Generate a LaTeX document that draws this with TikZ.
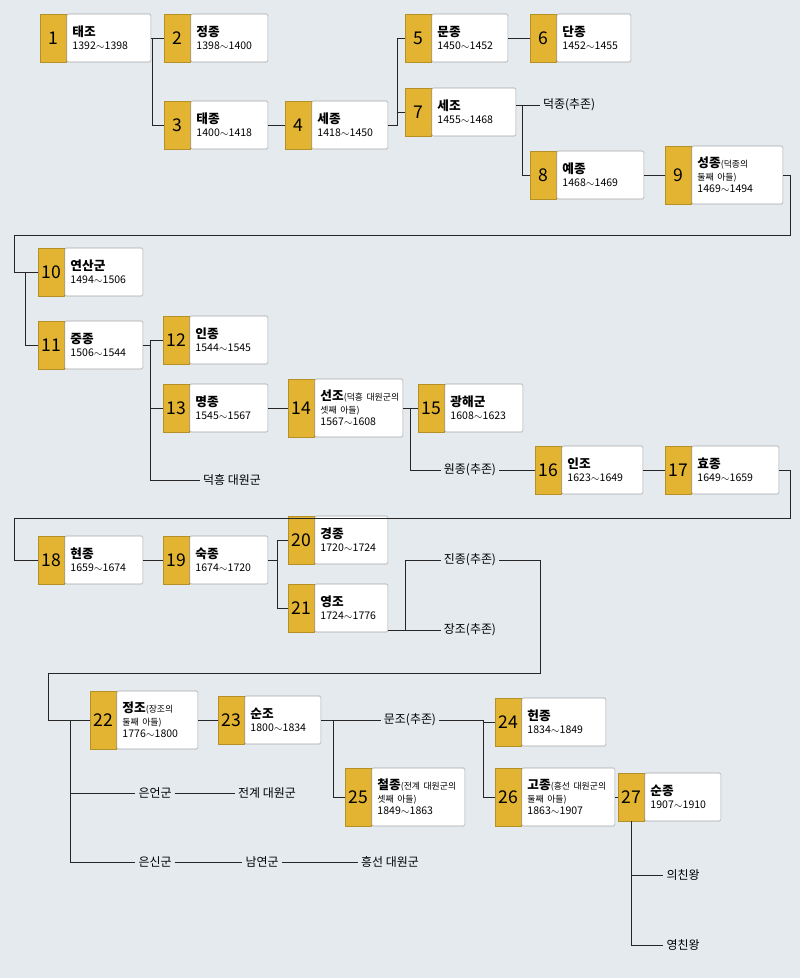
\documentclass[tikz,border=0pt]{standalone}
\usepackage{fontspec}
\setmainfont{Noto Sans CJK KR}
\usetikzlibrary{positioning}
\definecolor{bg}{HTML}{E4EAEE}
\definecolor{gold}{HTML}{E2B431}
\tikzset{x=0.025cm, y=-0.025cm,
  numbox/.style={fill=gold, draw=gold!80!black, minimum width=0.65cm, inner sep=0pt, font=\fontsize{12.5}{12}\selectfont, anchor=west},
  namebox/.style={fill=white, draw=black!35, rounded corners=1pt, inner xsep=4pt, inner ysep=2pt, align=left, font=\fontsize{7.5}{9}\selectfont},
  lbl/.style={font=\fontsize{8.5}{10}\selectfont, inner sep=2pt},
  link/.style={draw=black!85, line width=0.7pt}}
% \king{id}{x}{y}{width px}{height}{text}
\newcommand\king[6]{%
  \node[numbox, minimum height=#5] (n#1) at (#2,#3) {#1};
  \node[namebox, minimum height=#5, text width=\dimexpr #4\dimexpr0.025cm\relax-8pt\relax, anchor=west] (w#1) at (n#1.east) {#6};}
\newcommand\nm[1]{{\bfseries\fontsize{9}{10}\selectfont #1}}
\newcommand\sm[1]{\mbox{\fontsize{6.3}{8}\selectfont #1}}
\begin{document}
\begin{tikzpicture}
\fill[bg] (0,0) rectangle (800,978);
\useasboundingbox (0,0) rectangle (800,978);
\king{1}{40}{38}{84}{1.2cm}{\nm{태조}\\1392$\sim$1398}
\king{2}{164}{38}{77}{1.2cm}{\nm{정종}\\1398$\sim$1400}
\king{3}{164}{125}{77}{1.2cm}{\nm{태종}\\1400$\sim$1418}
\king{4}{285}{125}{76}{1.2cm}{\nm{세종}\\1418$\sim$1450}
\king{5}{405}{38}{76}{1.2cm}{\nm{문종}\\1450$\sim$1452}
\king{6}{530}{38}{74}{1.2cm}{\nm{단종}\\1452$\sim$1455}
\king{7}{405}{112}{84}{1.2cm}{\nm{세조}\\1455$\sim$1468}
\king{8}{530}{175}{87}{1.2cm}{\nm{예종}\\1468$\sim$1469}
\king{9}{665}{175}{91}{1.45cm}{\nm{성종}\sm{(덕종의}\\\sm{둘째 아들)}\\1469$\sim$1494}
\king{10}{38}{272}{78}{1.2cm}{\nm{연산군}\\1494$\sim$1506}
\king{11}{38}{345}{78}{1.2cm}{\nm{중종}\\1506$\sim$1544}
\king{12}{163}{340}{78}{1.2cm}{\nm{인종}\\1544$\sim$1545}
\king{13}{163}{408}{78}{1.2cm}{\nm{명종}\\1545$\sim$1567}
\king{14}{288}{408}{88}{1.45cm}{\nm{선조}\sm{(덕흥 대원군의}\\\sm{셋째 아들)}\\1567$\sim$1608}
\king{15}{418}{408}{78}{1.2cm}{\nm{광해군}\\1608$\sim$1623}
\king{16}{535}{470}{81}{1.2cm}{\nm{인조}\\1623$\sim$1649}
\king{17}{665}{470}{87}{1.2cm}{\nm{효종}\\1649$\sim$1659}
\king{18}{38}{560}{78}{1.2cm}{\nm{현종}\\1659$\sim$1674}
\king{19}{163}{560}{78}{1.2cm}{\nm{숙종}\\1674$\sim$1720}
\king{20}{288}{540}{73}{1.2cm}{\nm{경종}\\1720$\sim$1724}
\king{21}{288}{608}{73}{1.2cm}{\nm{영조}\\1724$\sim$1776}
\king{22}{90}{720}{81}{1.45cm}{\nm{정조}\sm{(장조의}\\\sm{둘째 아들)}\\1776$\sim$1800}
\king{23}{218}{720}{76}{1.2cm}{\nm{순조}\\1800$\sim$1834}
\king{24}{495}{722}{84}{1.2cm}{\nm{헌종}\\1834$\sim$1849}
\king{25}{345}{797}{93}{1.45cm}{\nm{철종}\sm{(전계 대원군의}\\\sm{셋째 아들)}\\1849$\sim$1863}
\king{26}{495}{797}{93}{1.45cm}{\nm{고종}\sm{(흥선 대원군의}\\\sm{둘째 아들)}\\1863$\sim$1907}
\king{27}{618}{797}{76}{1.2cm}{\nm{순종}\\1907$\sim$1910}

\node[lbl, anchor=west] (deokjong) at (540,105) {덕종(추존)};
\node[lbl] (deokheung) at (232,480) {덕흥 대원군};
\node[lbl] (wonjong) at (470,470) {원종(추존)};
\node[lbl] (jinjong) at (470,560) {진종(추존)};
\node[lbl] (jangjo) at (470,630) {장조(추존)};
\node[lbl] (munjo) at (410,720) {문조(추존)};
\node[lbl] (euneon) at (155,793) {은언군};
\node[lbl] (jeongye) at (267,793) {전계 대원군};
\node[lbl] (eunsin) at (155,862) {은신군};
\node[lbl] (namyeon) at (262,862) {남연군};
\node[lbl] (heungseon) at (390,862) {흥선 대원군};
\node[lbl] (uichin) at (683,875) {의친왕};
\node[lbl] (yeongchin) at (683,945) {영친왕};

\draw[link] (w1.east) -- (n2.west);
\draw[link] (152,38) |- (n3.west);
\draw[link] (w3.east) -- (n4.west);
\draw[link] (w4.east) -- (397,125) |- (n5.west);
\draw[link] (397,112) -- (n7.west);
\draw[link] (w5.east) -- (n6.west);
\draw[link] (w7.east |- deokjong) -- (deokjong.west);
\draw[link] (522,105) |- (n8.west);
\draw[link] (w8.east) -- (n9.west);
\draw[link] (w9.east) -- (790,175) -- (790,235) -- (14,235) |- (n10.west);
\draw[link] (25,272) |- (n11.west);
\draw[link] (w11.east) -- (150,345) |- (n12.west);
\draw[link] (150,340) |- (n13.west);
\draw[link] (150,408) |- (deokheung.west);
\draw[link] (w13.east) -- (n14.west);
\draw[link] (w14.east) -- (n15.west);
\draw[link] (410,408) |- (wonjong.west);
\draw[link] (wonjong.east) -- (n16.west);
\draw[link] (w16.east) -- (n17.west);
\draw[link] (w17.east) -- (790,470) -- (790,518) -- (14,518) |- (n18.west);
\draw[link] (w18.east) -- (n19.west);
\draw[link] (w19.east) -- (277,560) |- (n20.west);
\draw[link] (277,560) |- (n21.west);
\draw[link] (w21.east |- jangjo) -- (jangjo.west);
\draw[link] (405,630) |- (jinjong.west);
\draw[link] (jinjong.east) -- (540,560) -- (540,673) -- (48,673) |- (n22.west);
\draw[link] (70,720) |- (eunsin.west);
\draw[link] (70,793) -- (euneon.west);
\draw[link] (euneon.east) -- (jeongye.west);
\draw[link] (eunsin.east) -- (namyeon.west);
\draw[link] (namyeon.east) -- (heungseon.west);
\draw[link] (w22.east) -- (n23.west);
\draw[link] (w23.east) -- (munjo.west);
\draw[link] (333,720) |- (n25.west);
\draw[link] (munjo.east) -- (483,720) |- (n24.west);
\draw[link] (483,722) |- (n26.west);
\draw[link] (w26.east) -- (n27.west);
\draw[link] (n27.south) |- (yeongchin.west);
\draw[link] (n27.south |- uichin) -- (uichin.west);
\end{tikzpicture}
\end{document}
